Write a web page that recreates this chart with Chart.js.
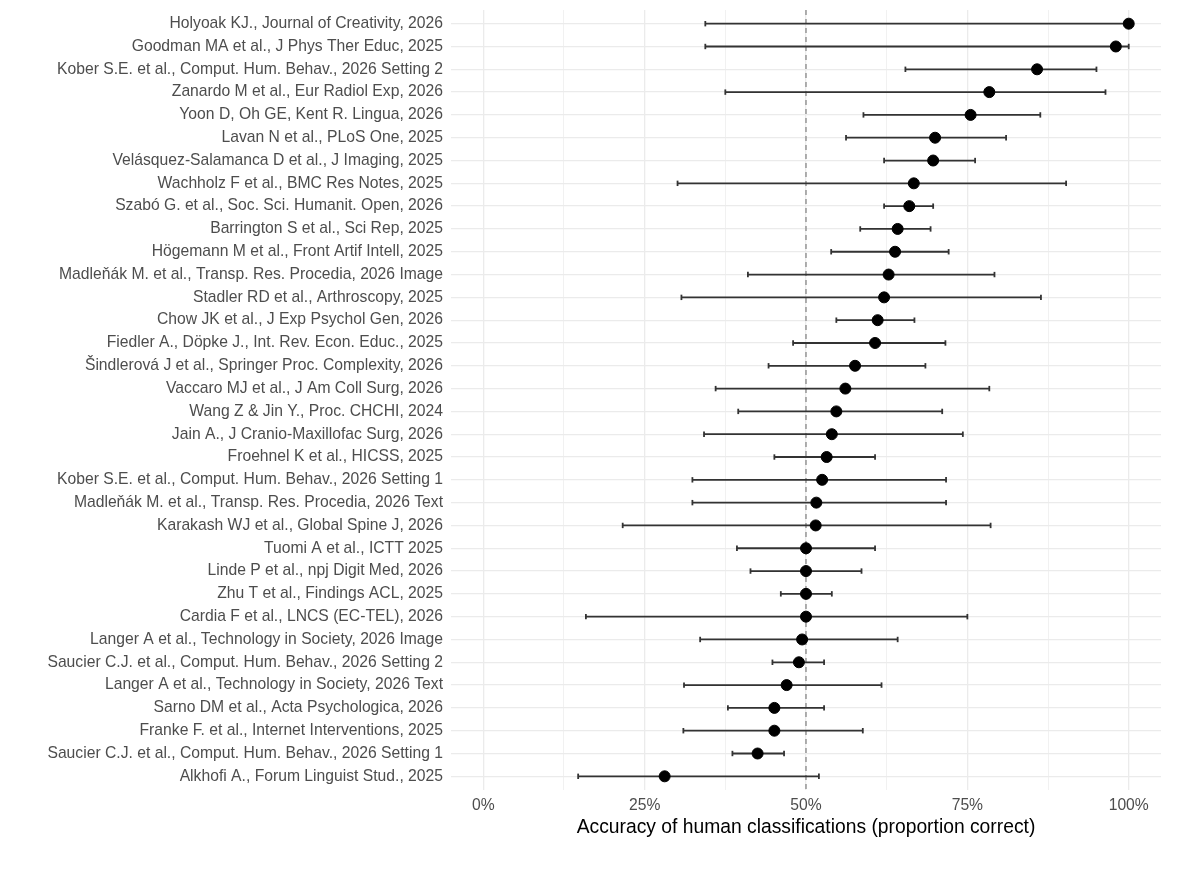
<!DOCTYPE html>
<html>
<head>
<meta charset="utf-8">
<script src="https://cdn.jsdelivr.net/npm/chart.js@4"></script>
<style>
  body { margin: 0; background: #fff; }
  #wrap { width: 1200px; height: 887px; }
</style>
</head>
<body>
<div id="wrap"><canvas id="forestChart"></canvas></div>
<script>
const studies = [
  "Holyoak KJ., Journal of Creativity, 2026",
  "Goodman MA et al., J Phys Ther Educ, 2025",
  "Kober S.E. et al., Comput. Hum. Behav., 2026 Setting 2",
  "Zanardo M et al., Eur Radiol Exp, 2026",
  "Yoon D, Oh GE, Kent R. Lingua, 2026",
  "Lavan N et al., PLoS One, 2025",
  "Velásquez-Salamanca D et al., J Imaging, 2025",
  "Wachholz F et al., BMC Res Notes, 2025",
  "Szabó G. et al., Soc. Sci. Humanit. Open, 2026",
  "Barrington S et al., Sci Rep, 2025",
  "Högemann M et al., Front Artif Intell, 2025",
  "Madleňák M. et al., Transp. Res. Procedia, 2026 Image",
  "Stadler RD et al., Arthroscopy, 2025",
  "Chow JK et al., J Exp Psychol Gen, 2026",
  "Fiedler A., Döpke J., Int. Rev. Econ. Educ., 2025",
  "Šindlerová J et al., Springer Proc. Complexity, 2026",
  "Vaccaro MJ et al., J Am Coll Surg, 2026",
  "Wang Z & Jin Y., Proc. CHCHI, 2024",
  "Jain A., J Cranio-Maxillofac Surg, 2026",
  "Froehnel K et al., HICSS, 2025",
  "Kober S.E. et al., Comput. Hum. Behav., 2026 Setting 1",
  "Madleňák M. et al., Transp. Res. Procedia, 2026 Text",
  "Karakash WJ et al., Global Spine J, 2026",
  "Tuomi A et al., ICTT 2025",
  "Linde P et al., npj Digit Med, 2026",
  "Zhu T et al., Findings ACL, 2025",
  "Cardia F et al., LNCS (EC-TEL), 2026",
  "Langer A et al., Technology in Society, 2026 Image",
  "Saucier C.J. et al., Comput. Hum. Behav., 2026 Setting 2",
  "Langer A et al., Technology in Society, 2026 Text",
  "Sarno DM et al., Acta Psychologica, 2026",
  "Franke F. et al., Internet Interventions, 2025",
  "Saucier C.J. et al., Comput. Hum. Behav., 2026 Setting 1",
  "Alkhofi A., Forum Linguist Stud., 2025"
];

const accuracy = [1.000, 0.980, 0.858, 0.784, 0.755, 0.700, 0.697, 0.667, 0.660, 0.642,
  0.638, 0.628, 0.621, 0.611, 0.607, 0.576, 0.561, 0.547, 0.540, 0.532,
  0.525, 0.516, 0.515, 0.500, 0.500, 0.500, 0.500, 0.494, 0.489, 0.470,
  0.451, 0.451, 0.425, 0.281];

const ciLow = [0.344, 0.344, 0.654, 0.375, 0.589, 0.562, 0.621, 0.301, 0.621, 0.584,
  0.539, 0.410, 0.307, 0.547, 0.480, 0.442, 0.360, 0.395, 0.342, 0.451,
  0.324, 0.324, 0.216, 0.393, 0.414, 0.461, 0.159, 0.336, 0.448, 0.311,
  0.379, 0.310, 0.386, 0.147];

const ciHigh = [1.000, 1.000, 0.950, 0.964, 0.863, 0.810, 0.762, 0.903, 0.697, 0.693,
  0.721, 0.792, 0.864, 0.668, 0.716, 0.685, 0.784, 0.711, 0.743, 0.607,
  0.717, 0.717, 0.786, 0.607, 0.586, 0.540, 0.750, 0.642, 0.528, 0.617,
  0.528, 0.588, 0.466, 0.520];

const xTicks = [0, 0.125, 0.25, 0.375, 0.5, 0.625, 0.75, 0.875, 1];
const chance = 0.5;

const font = "'Liberation Sans', Arial, sans-serif";
const yMin = -0.6;
const yMax = studies.length - 1 + 0.6;

const isMajor = v => Math.abs(v * 4 - Math.round(v * 4)) < 1e-9;

// error bars: one segment per study, NaN point breaks the line
const errData = [];
studies.forEach((s, i) => {
  errData.push({ x: ciLow[i], y: i });
  errData.push({ x: ciHigh[i], y: i });
  errData.push({ x: NaN, y: NaN });
});

const pointData = studies.map((s, i) => ({ x: accuracy[i], y: i }));

new Chart(document.getElementById("forestChart"), {
  type: "scatter",
  data: {
    datasets: [
      {
        data: [{ x: chance, y: yMin }, { x: chance, y: yMax }],
        showLine: true,
        borderColor: "#7f7f7f",
        borderWidth: 1.2,
        borderDash: [5, 4],
        pointRadius: 0,
        order: 3
      },
      {
        data: errData,
        showLine: true,
        spanGaps: false,
        borderColor: "#333",
        borderWidth: 1.8,
        pointStyle: "line",
        rotation: 90,
        pointRadius: 2.7,
        pointBorderWidth: 1.8,
        pointBorderColor: "#333",
        order: 2
      },
      {
        data: pointData,
        backgroundColor: "#000",
        borderColor: "#000",
        pointRadius: 5.5,
        order: 1
      }
    ]
  },
  options: {
    responsive: true,
    maintainAspectRatio: false,
    animation: false,
    layout: { padding: { top: 10, right: 39, bottom: 0, left: 0 } },
    plugins: {
      legend: { display: false },
      tooltip: { enabled: false }
    },
    scales: {
      x: {
        type: "linear",
        min: -0.05,
        max: 1.05,
        afterBuildTicks: scale => { scale.ticks = xTicks.map(v => ({ value: v })); },
        afterFit: scale => { scale.height = 97; },
        ticks: {
          color: "#4d4d4d",
          font: { family: font, size: 15.7 },
          padding: 6,
          maxRotation: 0,
          autoSkip: false,
          callback: v => (isMajor(v) ? Math.round(v * 100) + "%" : "")
        },
        grid: {
          color: "#ebebeb",
          lineWidth: ctx => (ctx.tick && isMajor(ctx.tick.value) ? 1.3 : 0.7),
          drawTicks: false
        },
        border: { display: false },
        title: {
          display: true,
          text: "Accuracy of human classifications (proportion correct)",
          color: "#000",
          font: { family: font, size: 19.3 },
          padding: { top: 0, bottom: 48 }
        }
      },
      y: {
        type: "linear",
        reverse: true,
        min: yMin,
        max: yMax,
        afterBuildTicks: scale => { scale.ticks = studies.map((s, i) => ({ value: i })); },
        afterFit: scale => {
          scale.width = 451;
          scale.paddingTop = 0;
          scale.paddingBottom = 0;
        },
        ticks: {
          color: "#4d4d4d",
          font: { family: font, size: 15.7 },
          padding: 8,
          autoSkip: false,
          callback: v => studies[v]
        },
        grid: {
          color: "#ebebeb",
          lineWidth: 1.3,
          drawTicks: false
        },
        border: { display: false }
      }
    }
  }
});
</script>
</body>
</html>
